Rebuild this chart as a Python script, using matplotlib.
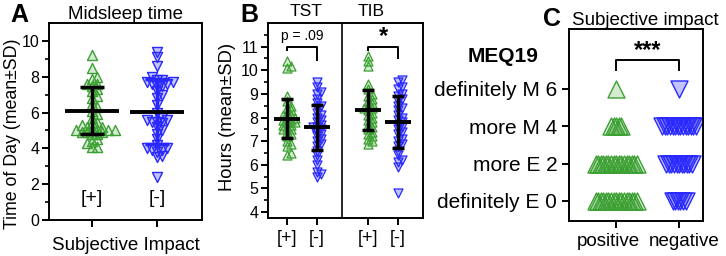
import numpy as np
import matplotlib.pyplot as plt

plt.rcParams['font.family'] = ['Liberation Sans', 'DejaVu Sans']

GREEN = '#3ca032'
GREEN_FACE = (0.24, 0.63, 0.2, 0.22)
BLUE = '#2828ff'
BLUE_FACE = (0.16, 0.16, 1.0, 0.28)

# Panel A: midsleep time (time of day)
mid_pos = [9.2, 8.5, 8.0, 7.9, 7.6, 7.6, 7.5, 7.3, 7.2, 6.9, 6.8, 6.5, 6.3, 6.1,
           5.9, 5.7, 5.5, 5.4, 5.3, 5.2, 5.2, 5.1, 5.1, 5.0, 5.0, 5.0, 4.9, 4.9,
           4.9, 4.8, 4.8, 4.5, 4.4, 4.3, 4.1, 4.1]
mid_neg = [9.4, 9.1, 8.6, 8.0, 7.8, 7.8, 7.7, 7.7, 7.6, 7.6, 7.5, 7.5, 7.2, 7.0,
           6.8, 6.4, 6.0, 5.7, 5.6, 5.6, 5.5, 5.5, 5.4, 5.2, 5.0, 4.8, 4.5, 4.2,
           4.0, 4.0, 3.9, 3.9, 3.8, 3.6, 3.5, 2.4]
mid_mean = [6.1, 6.05]
mid_sd = [1.3, 1.8]

# Panel B: hours, TST and TIB
tst_pos = [10.4, 10.2, 10.1, 8.9, 8.7, 8.5, 8.4, 8.3, 8.2, 8.1, 8.1, 8.0, 8.0, 7.9,
           7.9, 7.8, 7.8, 7.7, 7.7, 7.6, 7.5, 7.5, 7.4, 7.3, 7.2, 7.0, 6.9, 6.8,
           6.5, 6.4]
tst_neg = [9.5, 9.3, 9.1, 9.0, 8.8, 8.6, 8.5, 8.4, 8.2, 8.1, 8.0, 7.9, 7.8, 7.7,
           7.6, 7.6, 7.5, 7.4, 7.3, 7.2, 7.1, 7.0, 6.9, 6.8, 6.6, 6.4, 6.2, 6.0,
           5.7, 5.6, 5.5]
tib_pos = [10.6, 10.4, 10.2, 9.4, 9.2, 9.0, 8.9, 8.8, 8.7, 8.6, 8.5, 8.4, 8.4, 8.3,
           8.2, 8.1, 8.0, 7.9, 7.8, 7.7, 7.6, 7.5, 7.4, 7.3, 7.2, 7.1, 7.0, 6.9]
tib_neg = [9.6, 9.5, 9.3, 9.2, 9.0, 8.9, 8.8, 8.7, 8.5, 8.4, 8.3, 8.1, 8.0, 7.9,
           7.8, 7.7, 7.6, 7.5, 7.4, 7.3, 7.1, 7.0, 6.9, 6.8, 6.6, 6.4, 6.2, 6.1,
           5.9, 4.8]
hours_mean = [7.95, 7.58, 8.32, 7.8]
hours_sd = [0.82, 0.95, 0.85, 1.1]
hours_pos = [0, 1, 2.7, 3.7]

# Panel C: MEQ19 counts per score
meq_scores = [0, 2, 4, 6]
meq_labels = ['definitely E 0', 'more E 2', 'more M 4', 'definitely M 6']
meq_count_pos = [17, 17, 5, 1]
meq_count_neg = [6, 11, 14, 1]
impact_labels = ['positive', 'negative']


def swarm(vals, ypx, d):
    # greedy beeswarm in pixel space, returns x offsets in pixels
    vals = np.asarray(vals, float)
    order = np.argsort(vals)
    placed = []
    xs = np.zeros(len(vals))
    steps = [0.0]
    for k in range(1, 60):
        steps += [k * d * 0.5, -k * d * 0.5]
    for i in order:
        y = vals[i] * ypx
        for c in steps:
            if all((c - px) ** 2 + (y - py) ** 2 >= d * d for px, py in placed):
                break
        placed.append((c, y))
        xs[i] = c
    return xs


def style_box(ax):
    for s in ax.spines.values():
        s.set_linewidth(1.4)
    ax.tick_params(width=1.4, length=5, direction='out')
    ax.tick_params(which='minor', width=1.2, length=3)


fig = plt.figure(figsize=(7.26, 2.56), dpi=100)

# ---- A ----
axA = fig.add_axes([49 / 726, 36 / 256, 153 / 726, 197 / 256])
yA = 197 / 11.0
xA = 153 / 2.35
for i, (vals, edge, face) in enumerate([(mid_pos, GREEN, GREEN_FACE), (mid_neg, BLUE, BLUE_FACE)]):
    off = swarm(vals, yA, 5.2) / xA
    axA.scatter(i + off, vals, marker='^' if i == 0 else 'v', s=52,
                facecolor=face, edgecolor=edge, linewidth=1.0, zorder=2)
for i, (m, sd) in enumerate(zip(mid_mean, mid_sd)):
    c = 'black' if i == 0 else BLUE
    axA.vlines(i, m - sd, m + sd, color=c, lw=2.5, zorder=3)
    axA.hlines([m - sd, m + sd], i - 0.18, i + 0.18, color=c, lw=2.5, zorder=3)
    axA.hlines(m, i - 0.42, i + 0.42, color='black', lw=2.8, zorder=4)
axA.text(0, 1.2, '[+]', ha='center', va='center', fontsize=14)
axA.text(1, 1.2, '[-]', ha='center', va='center', fontsize=14)
axA.set_xlim(-0.66, 1.69)
axA.set_ylim(0, 11)
axA.set_xticks([0, 1])
axA.set_xticklabels([])
axA.set_yticks([0, 2, 4, 6, 8, 10])
axA.set_yticks([1, 3, 5, 7, 9], minor=True)
axA.tick_params(axis='y', labelsize=11.5, pad=2)
axA.set_xlabel('Subjective Impact', fontsize=13.5, labelpad=4)
axA.set_ylabel('Time of Day (mean±SD)', fontsize=12.8, va='center')
axA.yaxis.set_label_coords(-0.24, 0.44)
axA.set_title('Midsleep time', fontsize=13.5, pad=3)
style_box(axA)
fig.text(10 / 726, 1 - 22 / 256, 'A', fontsize=18, fontweight='bold')

# ---- B ----
axB = fig.add_axes([268 / 726, 38 / 256, 155 / 726, 195 / 256])
yB = 195 / 8.25
xB = 155 / 5.16
groups = [(tst_pos, GREEN, GREEN_FACE, '^'), (tst_neg, BLUE, BLUE_FACE, 'v'),
          (tib_pos, GREEN, GREEN_FACE, '^'), (tib_neg, BLUE, BLUE_FACE, 'v')]
for p, (vals, edge, face, mk) in zip(hours_pos, groups):
    off = swarm(vals, yB, 4.2) / xB
    axB.scatter(p + off, vals, marker=mk, s=42, facecolor=face,
                edgecolor=edge, linewidth=0.9, zorder=2)
for p, m, sd in zip(hours_pos, hours_mean, hours_sd):
    axB.vlines(p, m - sd, m + sd, color='black', lw=2.5, zorder=3)
    axB.hlines([m - sd, m + sd], p - 0.2, p + 0.2, color='black', lw=2.5, zorder=3)
    axB.hlines(m, p - 0.42, p + 0.42, color='black', lw=2.8, zorder=4)
axB.axvline(1.83, color='black', lw=1.2)
axB.plot([0, 0, 1, 1], [10.85, 11.0, 11.0, 10.45], color='black', lw=1.4)
axB.text(0.5, 11.15, 'p = .09', ha='center', va='bottom', fontsize=10)
axB.plot([2.7, 2.7, 3.7, 3.7], [10.85, 11.0, 11.0, 10.5], color='black', lw=1.4)
axB.text(3.2, 10.95, '*', ha='center', va='bottom', fontsize=17, fontweight='bold')
axB.set_xlim(-0.63, 4.53)
axB.set_ylim(3.75, 12.0)
axB.set_xticks(hours_pos)
axB.set_xticklabels(['[+]', '[-]', '[+]', '[-]'], fontsize=13)
axB.set_yticks(range(4, 12))
axB.set_yticks(np.arange(3.5, 12, 1.0)[1:], minor=True)
axB.tick_params(axis='y', labelsize=11.5, pad=2)
axB.set_ylabel('Hours (mean±SD)', fontsize=13.2, va='center')
axB.yaxis.set_label_coords(-0.26, 0.52)
axB.text(0.63, 12.3, 'TST', ha='center', va='baseline', fontsize=12.5)
axB.text(2.8, 12.3, 'TIB', ha='center', va='baseline', fontsize=12.5)
style_box(axB)
fig.text(240 / 726, 1 - 22 / 256, 'B', fontsize=18, fontweight='bold')

# ---- C ----
axC = fig.add_axes([569 / 726, 35 / 256, 134 / 726, 192 / 256])
step = 0.041
for i, (counts, edge, face, mk) in enumerate([(meq_count_pos, GREEN, GREEN_FACE, '^'),
                                               (meq_count_neg, BLUE, BLUE_FACE, 'v')]):
    for sc, n in zip(meq_scores, counts):
        xs = i + (np.arange(n) - (n - 1) / 2) * step
        axC.scatter(xs, [sc] * n, marker=mk, s=150, facecolor=face,
                    edgecolor=edge, linewidth=1.0, zorder=2)
axC.plot([0, 0, 1, 1], [7.0, 7.55, 7.55, 7.0], color='black', lw=1.4)
axC.text(0.5, 7.45, '***', ha='center', va='bottom', fontsize=17, fontweight='bold')
axC.set_xlim(-0.75, 1.38)
axC.set_ylim(-1.07, 9.2)
axC.set_xticks([0, 1])
axC.set_xticklabels([])
xtr = axC.get_xaxis_transform()
axC.text(0 - 0.13, -0.06, impact_labels[0], transform=xtr, ha='center', va='top', fontsize=13.5)
axC.text(1 + 0.08, -0.06, impact_labels[1], transform=xtr, ha='center', va='top', fontsize=13.5)
axC.set_yticks(meq_scores)
axC.set_yticklabels(meq_labels, fontsize=15)
axC.set_title('Subjective impact', fontsize=13.5, pad=3, x=0.57)
style_box(axC)
axC.text(-0.23, 7.75, 'MEQ19', transform=axC.get_yaxis_transform(), ha='right',
         va='center', fontsize=15, fontweight='bold')
fig.text(543 / 726, 1 - 26 / 256, 'C', fontsize=18, fontweight='bold')

fig.savefig('out.png', dpi=100)
